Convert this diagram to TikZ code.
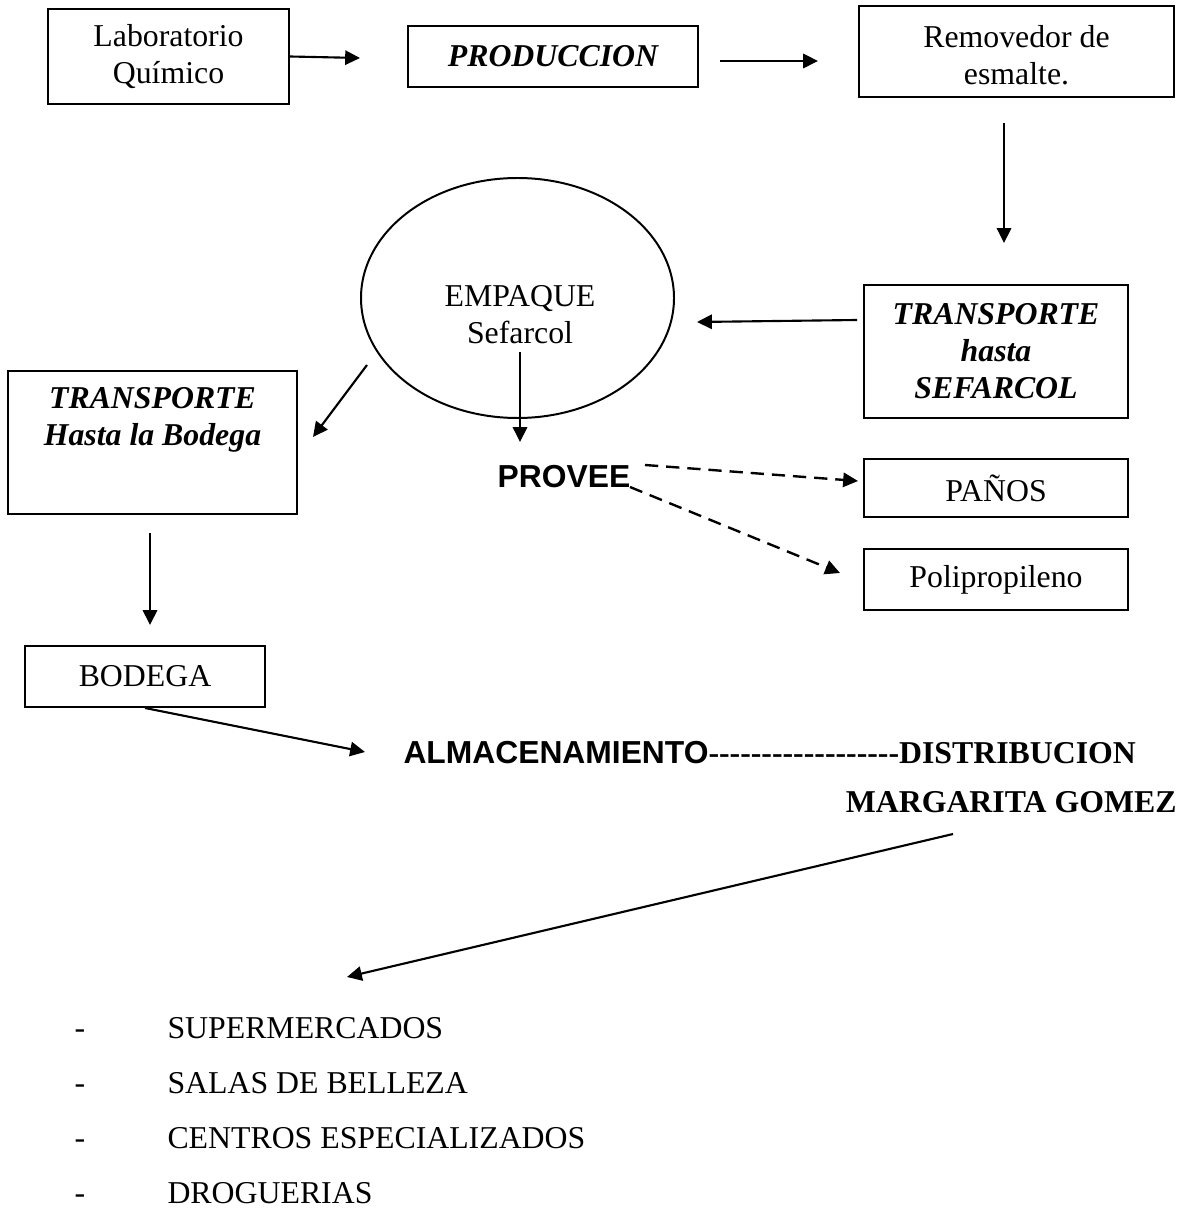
\documentclass[tikz,border=0pt]{standalone}
\usepackage{fontspec}
\setmainfont{Liberation Serif}
\setsansfont{Liberation Sans}
\usetikzlibrary{arrows.meta,shapes.geometric}
\newcommand\hy{\hbox{-}}
\begin{document}
\begin{tikzpicture}[x=0.3774pt,y=-0.3774pt,
  every node/.style={font=\fontsize{12}{14}\selectfont},
  box/.style={draw, line width=0.75pt, inner sep=0pt, align=center},
  arr/.style={-{Triangle[length=5.6pt,width=5.4pt]}, line width=0.8pt},
  darr/.style={arr, line width=0.9pt, dash pattern=on 5pt off 3pt},
  bi/.style={font=\fontsize{12}{14}\selectfont\bfseries\itshape}]
\def\U{0.3774pt}
\useasboundingbox (0,0) rectangle (1195,1210);

% boxes
\node[box, minimum width=241*\U, minimum height=95*\U] (lab) at (168.5,56.5) {Laboratorio\\Químico};
\node[box, bi, minimum width=290*\U, minimum height=61*\U] (prod) at (553,56.5) {PRODUCCION};
\node[box, minimum width=315*\U, minimum height=91*\U] (remo) at (1016.5,51.5) {};
\node[align=center] (remotxt) at (1016.5,55.5) {Removedor de\\esmalte.};
\node[box, bi, minimum width=264*\U, minimum height=133*\U] (tsef) at (996,351.5) {TRANSPORTE\\hasta\\SEFARCOL};
\node[draw, ellipse, line width=0.75pt, minimum width=313*\U, minimum height=240*\U, inner sep=0pt] (emp) at (517.5,298) {};
\node[align=center] (emptxt) at (520,315) {EMPAQUE\\Sefarcol};
\node[box, minimum width=289*\U, minimum height=143*\U] (tbod) at (152.5,442.5) {};
\node[bi, align=center] (tbodtxt) at (152.5,420) {TRANSPORTE\\Hasta la Bodega};
\node[font=\fontsize{12}{14}\selectfont\sffamily\bfseries] (prov) at (564,477) {PROVEE};
\node[box, minimum width=264*\U, minimum height=58*\U] (panos) at (996,488) {PAÑOS};
\node[box, minimum width=264*\U, minimum height=61*\U] (poli) at (996,579.5) {Polipropileno};
\node[box, minimum width=240*\U, minimum height=61*\U] (bod) at (145,676.5) {BODEGA};
\node[anchor=west, inner sep=0pt] (alm) at (403,753) {{\sffamily\bfseries ALMACENAMIENTO}{\bfseries\hy\hy\hy\hy\hy\hy\hy\hy\hy\hy\hy\hy\hy\hy\hy\hy\hy\hy DISTRIBUCION}};
\node[anchor=east, inner sep=0pt, font=\fontsize{12}{14}\selectfont\bfseries] (marg) at (1177,802) {MARGARITA GOMEZ};

% list
\foreach \t/\yy [count=\i] in {SUPERMERCADOS/1038.5, SALAS DE BELLEZA/1093.5, CENTROS ESPECIALIZADOS/1148.5, DROGUERIAS/1203.5}{
  \node[anchor=base, inner sep=0pt] (d\i) at (80,\yy) {-};
  \node[anchor=base west, inner sep=0pt] (l\i) at (167,\yy) {\t};
}

% free ends of connectors
\coordinate (a1e) at (360,58);
\coordinate (a2s) at (720,61);
\coordinate (a2e) at (818,61);
\coordinate (a3s) at (1004,123);
\coordinate (a3e) at (1004,243);
\coordinate (a4s) at (857,320);
\coordinate (a4e) at (697,322);
\coordinate (a5s) at (367,365);
\coordinate (a5e) at (313,437);
\coordinate (a6s) at (520,352);
\coordinate (a6e) at (520,442);
\coordinate (a7s) at (645,465);
\coordinate (a7e) at (858,481);
\coordinate (a8s) at (630,487);
\coordinate (a8e) at (840,573);
\coordinate (a9s) at (150,533);
\coordinate (a9e) at (150,625);
\coordinate (a10e) at (365,752);
\coordinate (a11s) at (953,834);
\coordinate (a11e) at (347,977);

\draw[arr] (lab.east) -- (a1e);
\draw[arr] (a2s) -- (a2e);
\draw[arr] (a3s) -- (a3e);
\draw[arr] (a4s) -- (a4e);
\draw[arr] (a5s) -- (a5e);
\draw[arr] (a6s) -- (a6e);
\draw[darr] (a7s) -- (a7e);
\draw[darr] (a8s) -- (a8e);
\draw[arr] (a9s) -- (a9e);
\draw[arr] (bod.south) -- (a10e);
\draw[arr] (a11s) -- (a11e);
\end{tikzpicture}
\end{document}
